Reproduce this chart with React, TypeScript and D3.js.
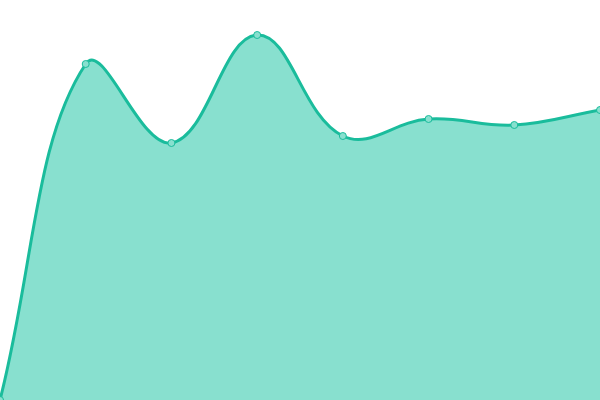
import React, { useEffect, useRef } from 'react';
import * as d3 from 'd3';

const width = 600;
const height = 400;

// one value per point, evenly spaced across the width
const steps = [0, 1, 2, 3, 4, 5, 6, 7];
const values = [0, 33.6, 25.7, 36.5, 26.4, 28.1, 27.5, 29];

const lineColor = "#1abc9c";
const areaColor = "#88e0cf";

// Distance-weighted bezier spline (tension 0.4), used as a d3 curve factory
class SplineCurve {
  _context: any;
  _t: number;
  _line = NaN;
  _x: number[] = [];
  _y: number[] = [];

  constructor(context: any, tension: number) {
    this._context = context;
    this._t = tension;
  }
  areaStart() { this._line = 0; }
  areaEnd() { this._line = NaN; }
  lineStart() { this._x = []; this._y = []; }
  point(x: number, y: number) { this._x.push(+x); this._y.push(+y); }
  lineEnd() {
    const xs = this._x, ys = this._y, n = xs.length, ctx = this._context, t = this._t;
    if (n) {
      if (this._line) ctx.lineTo(xs[0], ys[0]);
      else ctx.moveTo(xs[0], ys[0]);
    }
    const cpPrev: [number, number][] = [];
    const cpNext: [number, number][] = [];
    for (let i = 0; i < n; i++) {
      const p = Math.max(i - 1, 0), q = Math.min(i + 1, n - 1);
      const d01 = Math.hypot(xs[i] - xs[p], ys[i] - ys[p]);
      const d12 = Math.hypot(xs[q] - xs[i], ys[q] - ys[i]);
      let s01 = d01 / (d01 + d12), s12 = d12 / (d01 + d12);
      if (isNaN(s01)) s01 = 0;
      if (isNaN(s12)) s12 = 0;
      const fa = t * s01, fb = t * s12;
      const vx = xs[q] - xs[p], vy = ys[q] - ys[p];
      cpPrev.push([xs[i] - fa * vx, ys[i] - fa * vy]);
      cpNext.push([xs[i] + fb * vx, ys[i] + fb * vy]);
    }
    for (let i = 1; i < n; i++) {
      ctx.bezierCurveTo(cpNext[i - 1][0], cpNext[i - 1][1], cpPrev[i][0], cpPrev[i][1], xs[i], ys[i]);
    }
    if (this._line || (this._line !== 0 && n === 1)) ctx.closePath();
    this._line = 1 - this._line;
  }
}

const spline = ((context: any) => new SplineCurve(context, 0.4)) as unknown as d3.CurveFactory;

const App: React.FC = () => {
  const svgRef = useRef<SVGSVGElement>(null);

  useEffect(() => {
    if (!svgRef.current) return;

    const svg = d3.select(svgRef.current);
    svg.selectAll("*").remove();

    const x = d3.scaleLinear().domain([0, steps.length - 1]).range([0, width]);
    const y = d3.scaleLinear().domain([0, 40]).range([height, 0]);

    const data = steps.map((s, i) => ({ s, v: values[i] }));

    const area = d3.area<{ s: number; v: number }>()
      .x(d => x(d.s))
      .y0(height)
      .y1(d => y(d.v))
      .curve(spline);

    const line = d3.line<{ s: number; v: number }>()
      .x(d => x(d.s))
      .y(d => y(d.v))
      .curve(spline);

    // Filled area
    svg.append("path")
      .datum(data)
      .attr("fill", areaColor)
      .attr("d", area);

    // Outline
    svg.append("path")
      .datum(data)
      .attr("fill", "none")
      .attr("stroke", lineColor)
      .attr("stroke-width", 3)
      .attr("d", line);

    // Point markers
    svg.selectAll("circle")
      .data(data)
      .enter()
      .append("circle")
      .attr("cx", d => x(d.s))
      .attr("cy", d => y(d.v))
      .attr("r", 3.5)
      .attr("fill", areaColor)
      .attr("stroke", lineColor)
      .attr("stroke-width", 1);
  }, []);

  return (
    <svg
      ref={svgRef}
      width={width}
      height={height}
      style={{ position: "fixed", left: 0, top: 0, background: "#fff" }}
    />
  );
};

export default App;
